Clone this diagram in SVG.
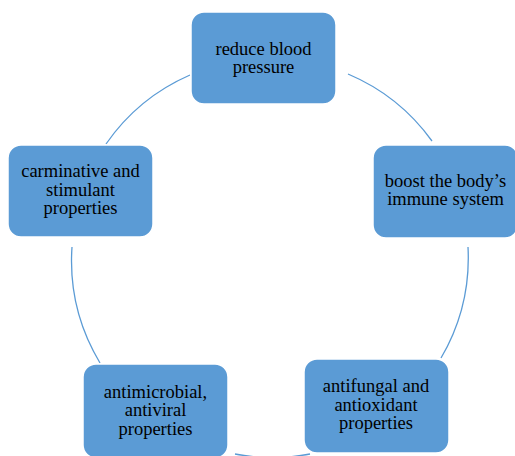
<svg xmlns="http://www.w3.org/2000/svg" width="515" height="456" viewBox="0 0 515 456">
<style>
.box{fill:#5B9BD5;stroke:#ffffff;stroke-width:1.5}
.lbl{font-family:"Liberation Serif","Times New Roman",serif;font-size:18.5px;fill:#000;text-anchor:middle}
.arc{fill:none;stroke:#5B9BD5;stroke-width:1.3}
</style>
<rect width="515" height="456" fill="#ffffff"/>
<g id="connectors">
<path class="arc" d="M348,74 A199,199 0 0 1 432,141"/>
<path class="arc" d="M468,247 A199,199 0 0 1 441,358"/>
<path class="arc" d="M310,454 A199,199 0 0 1 235,454"/>
<path class="arc" d="M100,363 A199,199 0 0 1 72,247"/>
<path class="arc" d="M106,144 A199,199 0 0 1 190,75"/>
</g>
<g id="node1">
<rect class="box" x="191" y="12" width="145" height="92" rx="13"/>
<text class="lbl" x="263.5" y="55">reduce blood</text>
<text class="lbl" x="263.5" y="73.3">pressure</text>
</g>
<g id="node2">
<rect class="box" x="373" y="145" width="145" height="93" rx="13"/>
<text class="lbl" x="445.5" y="186.7">boost the body’s</text>
<text class="lbl" x="445.5" y="205">immune system</text>
</g>
<g id="node5">
<rect class="box" x="304" y="359" width="145" height="94" rx="13"/>
<text class="lbl" x="376" y="392.3">antifungal and</text>
<text class="lbl" x="376" y="410.8">antioxidant</text>
<text class="lbl" x="376" y="429.3">properties</text>
</g>
<g id="node4">
<rect class="box" x="83" y="364" width="145" height="94" rx="13"/>
<text class="lbl" x="155.5" y="397.7">antimicrobial,</text>
<text class="lbl" x="155.5" y="416.2">antiviral</text>
<text class="lbl" x="155.5" y="434.7">properties</text>
</g>
<g id="node3">
<rect class="box" x="8" y="145" width="145" height="92" rx="13"/>
<text class="lbl" x="80.5" y="177.3">carminative and</text>
<text class="lbl" x="80.5" y="195.8">stimulant</text>
<text class="lbl" x="80.5" y="214.3">properties</text>
</g>
</svg>
